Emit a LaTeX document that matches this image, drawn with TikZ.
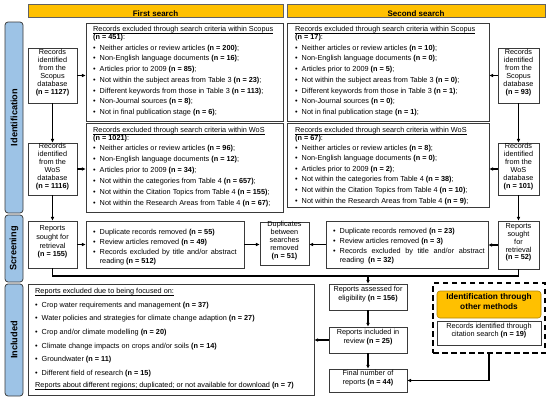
\documentclass[tikz,border=0pt]{standalone}
\usepackage{fontspec}
\setmainfont{Liberation Sans}
\usetikzlibrary{fit,arrows.meta}
\definecolor{hdr}{HTML}{FFC000}
\definecolor{lane}{HTML}{9DC3E6}
\definecolor{bd}{HTML}{3A3A3A}
\newcommand{\pbul}{\textbullet\hspace{4pt}}
\newcommand{\ulx}[1]{\underline{\raisebox{0pt}[\height][0pt]{#1}}}
\begin{document}
\begin{tikzpicture}[x=1pt,y=-1pt,
 box/.style={draw=bd,line width=0.75pt,inner sep=0pt,fill=white},
 sbox/.style={box,align=center,font=\fontsize{7.3}{8}\selectfont},
 txt/.style={inner sep=0pt,align=left,anchor=north west,font=\fontsize{7.3}{10.7}\selectfont},
 hdrst/.style={draw=bd!80,line width=0.5pt,fill=hdr,inner sep=0pt},
 hdrtxt/.style={inner sep=0pt,anchor=base,font=\bfseries\fontsize{8}{9}\selectfont},
 lanest/.style={draw=bd,line width=0.75pt,fill=lane,rounded corners=3pt,inner sep=0pt},
 lanetxt/.style={rotate=90,inner sep=0pt,font=\bfseries\fontsize{9.2}{10}\selectfont},
 arr/.style={line width=1.1pt,-{Latex[length=3.8pt,width=3.8pt]}},
 ln/.style={line width=1.1pt},
]
\useasboundingbox (0,0) rectangle (550,402);
% headers
\node[hdrst,fit={(28,4)(283,17.5)}] (h1) {};
\node[hdrtxt] (h1t) at (h1.center |- 0,16) {First search};
\node[hdrst,fit={(287,4)(545,17.5)}] (h2) {};
\node[hdrtxt] (h2t) at (h2.center |- 0,16) {Second search};
% lanes
\node[lanest,fit={(5,22)(23,213)}] (lid) {};
\node[lanetxt] (lidt) at (lid.center) {Identification};
\node[lanest,fit={(5,215)(23,282)}] (lsc) {};
\node[lanetxt] (lsct) at (lsc.center) {Screening};
\node[lanest,fit={(5,284)(23,396)}] (lin) {};
\node[lanetxt] (lint) at (lin.center) {Included};
% small boxes
\node[sbox,fit={(28,48)(77,103)}] (sc1) {Records\\identified\\from the\\Scopus\\database\\\textbf{(n = 1127)}};
\node[sbox,fit={(28,143)(77,195)}] (wo1) {Records\\identified\\from the\\WoS\\database\\\textbf{(n = 1116)}};
\node[sbox,fit={(28,221)(77,268)},font=\fontsize{7.3}{8.7}\selectfont] (rs1) {Reports\\sought for\\retrieval\\\textbf{(n = 155)}};
\node[sbox,fit={(498,48)(539,103)}] (sc2) {Records\\identified\\from the\\Scopus\\database\\\textbf{(n = 93)}};
\node[sbox,fit={(498,143)(539,195)}] (wo2) {Records\\identified\\from the\\WoS\\database\\\textbf{(n = 101)}};
\node[sbox,fit={(498,221)(539,269)},font=\fontsize{7.3}{7.8}\selectfont] (rs2) {Reports\\sought\\for\\retrieval\\\textbf{(n = 52)}};
\node[sbox,fit={(260,222)(309,265)}] (dup) {Duplicates\\between\\searches\\removed\\\textbf{(n = 51)}};
% exclusion boxes
\node[box,fit={(86,23)(283,121)}] (es1) {};
\node[box,fit={(287,23)(489,121)}] (es2) {};
\node[box,fit={(86,123)(283,212)}] (ew1) {};
\node[box,fit={(287,123)(489,207)}] (ew2) {};
\node[box,fit={(86,221)(244,268)}] (sr1) {};
\node[box,fit={(326,221)(488,268)}] (sr2) {};
\node[box,fit={(28,284)(314,395)}] (inx) {};
% right column flow
\node[sbox,fit={(329,284)(407,310)},font=\fontsize{7.3}{9}\selectfont] (asm) {Reports assessed for\\eligibility \textbf{(n = 156)}};
\node[sbox,fit={(329,327)(407,353)},font=\fontsize{7.3}{9}\selectfont] (inc) {Reports included in\\review \textbf{(n = 25)}};
\node[sbox,fit={(329,369)(407,392)},font=\fontsize{7.3}{9}\selectfont] (fin) {Final number of\\reports \textbf{(n = 44)}};
\node[draw=black,line width=1.6pt,dash pattern=on 5.5pt off 3.5pt,inner sep=0pt,fit={(433,283)(545,353)}] (oth) {};
\node[draw=hdr!70!black,line width=0.6pt,fill=hdr,rounded corners=3pt,inner sep=0pt,align=center,font=\bfseries\fontsize{8.3}{9.2}\selectfont,fit={(437,291)(541,318)}] (othh) {Identification through\\other methods};
\node[sbox,fit={(437,321)(541,345)}] (cit) {Records identified through\\citation search \textbf{(n = 19)}};
% texts
\node[txt] (es1t) at (93,26.5) {\ulx{Records excluded through search criteria within Scopus}\\[-2.7pt]
\textbf{(n = 451)}:\\[-0.4pt]
\pbul Neither articles or review articles \textbf{(n = 200)};\\
\pbul Non-English language documents \textbf{(n = 16)};\\
\pbul Articles prior to 2009 \textbf{(n = 85)};\\
\pbul Not within the subject areas from Table 3 \textbf{(n = 23)};\\
\pbul Different keywords from those in Table 3 \textbf{(n = 113)};\\
\pbul Non-Journal sources \textbf{(n = 8)};\\
\pbul Not in final publication stage \textbf{(n = 6)};};
\node[txt] (es2t) at (295,26.5) {\ulx{Records excluded through search criteria within Scopus}\\[-2.7pt]
\textbf{(n = 17)}:\\[-0.4pt]
\pbul Neither articles or review articles \textbf{(n = 10)};\\
\pbul Non-English language documents \textbf{(n = 0)};\\
\pbul Articles prior to 2009 \textbf{(n = 5)};\\
\pbul Not within the subject areas from Table 3 \textbf{(n = 0)};\\
\pbul Different keywords from those in Table 3 \textbf{(n = 1)};\\
\pbul Non-Journal sources \textbf{(n = 0)};\\
\pbul Not in final publication stage \textbf{(n = 1)};};
\node[txt,font=\fontsize{7.3}{11}\selectfont] (ew1t) at (93,127.5) {\ulx{Records excluded through search criteria within WoS}\\[-3pt]
\textbf{(n = 1021)}:\\[-1.7pt]
\pbul Neither articles or review articles \textbf{(n = 96)};\\
\pbul Non-English language documents \textbf{(n = 12)};\\
\pbul Articles prior to 2009 \textbf{(n = 34)};\\
\pbul Not within the categories from Table 4 \textbf{(n = 657)};\\
\pbul Not within the Citation Topics from Table 4 \textbf{(n = 155)};\\
\pbul Not within the Research Areas from Table 4 \textbf{(n = 67)};};
\node[txt,font=\fontsize{7.3}{10.6}\selectfont] (ew2t) at (295,127.5) {\ulx{Records excluded through search criteria within WoS}\\[-2.6pt]
\textbf{(n = 67)}:\\[-1.5pt]
\pbul Neither articles or review articles \textbf{(n = 8)};\\
\pbul Non-English language documents \textbf{(n = 0)};\\
\pbul Articles prior to 2009 \textbf{(n = 2)};\\
\pbul Not within the categories from Table 4 \textbf{(n = 38)};\\
\pbul Not within the Citation Topics from Table 4 \textbf{(n = 10)};\\
\pbul Not within the Research Areas from Table 4 \textbf{(n = 9)};};
\node[txt,font=\fontsize{7.3}{10}\selectfont] (sr1t) at (93,229.3) {\pbul Duplicate records removed \textbf{(n = 55)}\\
\pbul Review articles removed \textbf{(n = 49)}\\
\pbul\makebox[137pt][s]{Records excluded by title and/or abstract}\\[-1pt]
\hspace*{6.6pt}reading \textbf{(n = 512)}};
\node[txt,font=\fontsize{7.3}{10}\selectfont] (sr2t) at (333,228.3) {\pbul Duplicate records removed \textbf{(n = 23)}\\
\pbul Review articles removed \textbf{(n = 3)}\\
\pbul\makebox[145pt][s]{Records excluded by title and/or abstract}\\[-1pt]
\hspace*{6.6pt}reading \ \textbf{(n = 32)}};
\node[txt,font=\fontsize{7.3}{13.7}\selectfont] (inxt) at (35,288) {\ulx{Reports excluded due to being focused on:}\\
\pbul Crop water requirements and management \textbf{(n = 37)}\\
\pbul Water policies and strategies for climate change adaption \textbf{(n = 27)}\\
\pbul Crop and/or climate modelling \textbf{(n = 20)}\\
\pbul Climate change impacts on crops and/or soils \textbf{(n = 14)}\\
\pbul Groundwater \textbf{(n = 11)}\\
\pbul Different field of research \textbf{(n = 15)}\\[-1.7pt]
\ulx{Reports about different regions; duplicated; or not available for download} \textbf{(n = 7)}};
% connectors
\draw[arr] (sc1.east) -- (sc1.east -| es1.west);
\draw[arr] (wo1.east) -- (wo1.east -| ew1.west);
\draw[arr] (rs1.east) -- (rs1.east -| sr1.west);
\draw[arr] (sc2.west) -- (sc2.west -| es2.east);
\draw[arr] (wo2.west) -- (wo2.west -| ew2.east);
\draw[arr] (rs2.west) -- (rs2.west -| sr2.east);
\draw[arr] (sc1.south) -- (wo1.north);
\draw[arr] (wo1.south) -- (rs1.north);
\draw[arr] (sc2.south) -- (wo2.north);
\draw[arr] (wo2.south) -- (rs2.north);
\draw[arr] (sr1.east) -- (sr1.east -| dup.west);
\draw[arr] (sr2.west) -- (sr2.west -| dup.east);
\coordinate (brk) at (asm.north |- 0,276);
\draw[ln] (rs1.south) |- (brk) -| (rs2.south);
\draw[arr] (brk) -- (asm.north);
\draw[arr] (asm.south) -- (inc.north);
\draw[arr] (inc.south) -- (fin.north);
\draw[arr] (inc.west) -- (inc.west -| inx.east);
\draw[arr] (oth.south) |- (fin.east);
\end{tikzpicture}
\end{document}
